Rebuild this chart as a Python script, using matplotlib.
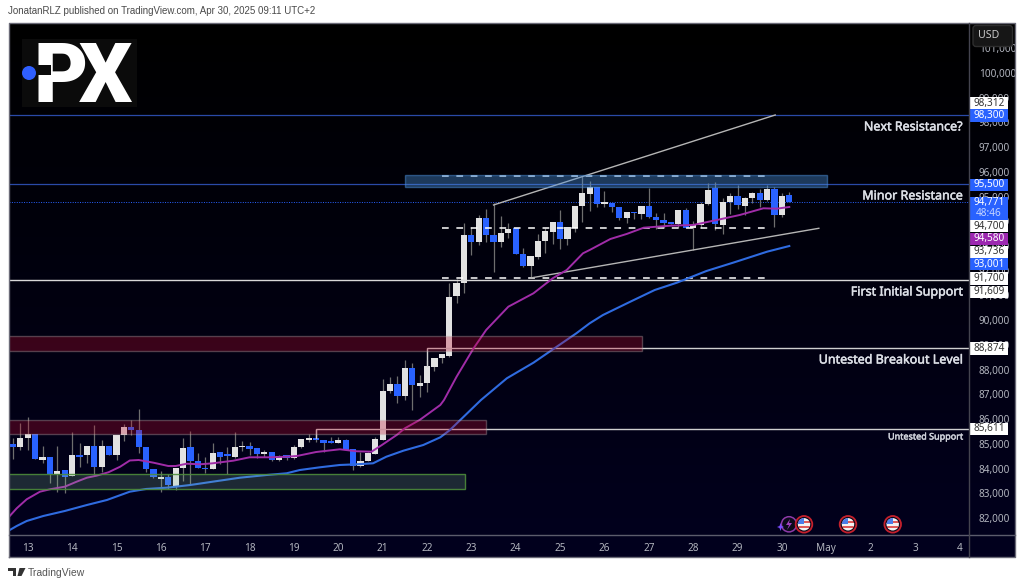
# BTCUSD 4H chart, TradingView style
import numpy as np
import matplotlib
matplotlib.use("Agg")
import matplotlib.pyplot as plt
import matplotlib.patheffects as pe
from matplotlib.patches import Rectangle, Circle, FancyBboxPatch, Polygon

opens = [84980, 84885, 85250, 85398, 84360, 84480, 83780, 83940, 83713, 84560,
         84535, 84900, 84064, 84900, 84550, 85344, 85695, 85560, 84873, 83970,
         83592, 83660, 83295, 84010, 84859, 84306, 84037, 83970, 84670, 84536,
         84480, 84859, 84926, 84818, 84590, 84657, 84347, 84536, 84441, 84859,
         85169, 85196, 85169, 85075, 85021, 85156, 84778, 84104, 84320, 84590,
         85156, 87137, 87407, 86949, 88054, 87340, 87461, 88123, 88460, 88554,
         90981, 91520, 93461, 93151, 94122, 93461, 93178, 93528, 93717, 92665,
         92207, 92571, 93218, 93555, 93986, 93272, 93744, 94620, 95120, 95389,
         94688, 94756, 94594, 94135, 94392, 94284, 94621, 94176, 94068, 93933,
         93893, 94445, 93745, 93852, 94702, 95335, 93852, 94769, 95025, 94634,
         94931, 95133, 94850, 95322, 94243, 95065]
highs = [85250, 85857, 86072, 85398, 84900, 84480, 84900, 83940, 85466, 85034,
         84900, 85749, 85155, 84900, 85344, 85789, 85964, 86409, 84873, 83970,
         83902, 83767, 84010, 85223, 85506, 84643, 84480, 85020, 84670, 84859,
         85466, 85102, 85088, 84818, 84751, 84657, 84549, 84536, 84940, 85196,
         85398, 85587, 85169, 85264, 85264, 85210, 84778, 84684, 84684, 85291,
         87619, 87690, 87757, 88391, 88283, 87784, 88391, 88460, 88635, 91493,
         91655, 93919, 93785, 94256, 94485, 94728, 94216, 93919, 93717, 92908,
         92598, 93474, 93744, 93986, 94458, 93784, 94620, 95847, 95645, 95389,
         95241, 94756, 94594, 94392, 94392, 94634, 95362, 94324, 94324, 93960,
         94445, 94526, 94014, 94769, 95537, 95605, 94931, 95133, 95470, 94998,
         95200, 95295, 95470, 95376, 95133, 95173]
lows = [84387, 84750, 84750, 84387, 84212, 83430, 83066, 83000, 83713, 84077,
        84212, 83740, 83875, 84550, 84347, 85128, 85344, 84617, 83875, 83605,
        83066, 83160, 83133, 83511, 83335, 84023, 83807, 83970, 84172, 83780,
        84414, 84724, 84549, 84414, 84482, 84320, 84320, 84347, 84374, 84819,
        85061, 85061, 84684, 85021, 85021, 84751, 83942, 84050, 84306, 84590,
        85156, 87070, 86639, 86773, 86369, 86908, 87083, 87961, 88258, 88500,
        90684, 91116, 92639, 93043, 93178, 91965, 92948, 93312, 92665, 92140,
        91762, 92477, 92706, 93083, 92868, 93043, 93582, 93987, 94432, 94594,
        94594, 94392, 94055, 93920, 94082, 94082, 94122, 93691, 93718, 93880,
        93718, 93718, 92841, 93718, 94661, 93650, 93488, 94297, 94486, 94257,
        94729, 94594, 94823, 93785, 94162, 94771]
closes = [84885, 85250, 85398, 84387, 84480, 83780, 83900, 83660, 84535, 84480,
          84900, 84064, 84900, 84550, 85344, 85695, 85560, 84873, 83970, 83646,
          83660, 83322, 84010, 84818, 84306, 84023, 83970, 84643, 84480, 84508,
          84859, 84926, 84805, 84590, 84643, 84347, 84508, 84441, 84859, 85196,
          85196, 85156, 85048, 85048, 85156, 84751, 84118, 84320, 84617, 85183,
          87151, 87407, 86949, 88081, 87380, 87474, 88135, 88460, 88635, 90954,
          91520, 93461, 93151, 94122, 93448, 93178, 93542, 93703, 92665, 92207,
          92598, 93218, 93595, 93986, 93285, 93784, 94620, 95133, 95389, 94702,
          94769, 94580, 94135, 94392, 94324, 94634, 94162, 94055, 93933, 93893,
          94445, 93745, 93852, 94715, 95268, 93879, 94796, 95025, 94648, 94958,
          95133, 94863, 95322, 94257, 95039, 94771]

# moving averages, read at some bars only
ma_fast_x = [-0.6, 0.5, 1.85, 3.65, 5, 7, 8.6, 10, 11.3, 12.9, 14.5, 15.8, 17, 19, 21, 22,
             23.5, 25.3, 27, 29.8, 32, 34.8, 37, 38.4, 41, 44.2, 46.5, 48.5, 49.9, 51.9,
             53, 55, 57.8, 58.3, 60, 62.3, 64, 67, 70.4, 73, 74.9, 77.1, 78, 80.8, 83,
             85.3, 88.9, 92, 95.2, 98.3, 101.5, 103.3, 105]
ma_fast_y = [82028, 82392, 82756, 83064, 83161, 83266, 83468, 83630, 83711, 83848, 84075,
             84326, 84346, 84237, 84103, 84103, 84196, 84172, 84212, 84318, 84455, 84455,
             84479, 84508, 84669, 84779, 84698, 84682, 84953, 85357, 85628, 85964, 86571,
             86773, 87715, 88864, 89604, 90547, 91089, 91696, 92031, 92707, 92840, 93285,
             93488, 93742, 93823, 93852, 94054, 94256, 94527, 94511, 94580]
ma_slow_x = [-0.6, 0.5, 1.85, 4.1, 7, 10, 12.7, 15.8, 18, 20.8, 24, 27, 30.7, 34.3, 37, 38.8,
             41.5, 44.2, 46.5, 48.7, 50.5, 52.8, 55.5, 57.8, 59.1, 63.3, 66.8, 70.4, 73.1,
             76.2, 78, 79.8, 83.5, 86.8, 89.8, 93.8, 97.4, 102, 105]
ma_slow_y = [81486, 81676, 81878, 82081, 82283, 82526, 82728, 83064, 83173, 83225, 83335,
             83468, 83630, 83739, 83808, 83941, 84050, 84144, 84172, 84212, 84479, 84722,
             84953, 85264, 85559, 86773, 87651, 88282, 88836, 89471, 89875, 90211, 90749,
             91222, 91518, 91991, 92327, 92772, 93001]

day_bars = [2, 8, 14, 20, 26, 32, 38, 44, 50, 56, 62, 68, 74, 80, 86, 92, 98, 104, 110, 116, 122, 128]
day_labels = ["13", "14", "15", "16", "17", "18", "19", "20", "21", "22", "23", "24", "25", "26",
              "27", "28", "29", "30", "May", "2", "3", "4"]
price_ticks = list(range(82000, 102000, 1000))

level_next = 98300
level_minor = 95500
last_price = 94771
level_support = 91609
level_breakout = 88874
level_untested = 85611
dash_levels = [95840, 93736, 91700]

BLUE = "#2962ff"
WHITE = "#e2e2e2"
GREY = "#b2b5be"
FONT = ["Noto Sans", "DejaVu Sans"]
plt.rcParams["font.family"] = FONT

fig = plt.figure(figsize=(10.24, 5.87), dpi=100, facecolor="white")

# gradient behind the panel
bg = fig.add_axes([0, 0, 1, 1], zorder=0)
bg.set_xlim(0, 1024)
bg.set_ylim(587, 0)
bg.axis("off")
grad = np.linspace(0, 1, 64).reshape(-1, 1, 1) * np.array([2, 0, 30]).reshape(1, 1, 3) / 255
bg.imshow(grad, extent=(9, 1015, 557, 23), aspect="auto", interpolation="bilinear")
bg.set_xlim(0, 1024)
bg.set_ylim(587, 0)

ax = fig.add_axes([9 / 1024, 1 - 535 / 587, 960 / 1024, 512 / 587], zorder=1)
ax.patch.set_alpha(0)
ax.set_xlim(-0.541, 129.31)
ax.set_ylim(81312, 102022)
for s in ax.spines.values():
    s.set_visible(False)

# zones, above the candles like in the original
ax.add_patch(Rectangle((-1, 88770), 86.1, 590, fc=(0.75, 0.05, 0.18, 0.30), ec=(0.75, 0.7, 0.7, 0.35), lw=1, zorder=6))
ax.add_patch(Rectangle((-1, 85400), 65, 550, fc=(0.75, 0.05, 0.18, 0.30), ec=(0.75, 0.7, 0.7, 0.35), lw=1, zorder=6))
ax.add_patch(Rectangle((-1, 83190), 62.1, 604, fc=(0.56, 0.82, 0.63, 0.20), ec=(0.3, 0.55, 0.23, 0.9), lw=1, zorder=6))
ax.add_patch(Rectangle((53, 95375), 57.1, 495, fc=(0.29, 0.56, 0.85, 0.40), ec=(0.29, 0.56, 0.85, 0.5), lw=1, zorder=6))

# levels
ax.axhline(level_next, color="#2a4aa8", lw=0.9, zorder=2)
ax.axhline(level_minor, color="#2a4aa8", lw=0.9, zorder=2)
ax.axhline(last_price, color=BLUE, lw=0.7, ls=(0, (1, 1.5)), zorder=2)
ax.axhline(level_support, color="#d8d8d8", lw=1, zorder=5)
ax.plot([56, 56, 130], [88148, level_breakout, level_breakout], color="#cfcfcf", lw=1, zorder=5, solid_joinstyle="miter")
ax.plot([41, 41, 130], [85235, level_untested, level_untested], color="#cfcfcf", lw=1, zorder=5, solid_joinstyle="miter")
for lv in dash_levels:
    ax.plot([58, 101.7], [lv, lv], color="white", lw=1.1, ls=(0, (4.4, 5)), zorder=5)

# wedge
ax.plot([65, 103.1], [94661, 98301], color="#b5b5b5", lw=1, zorder=5)
ax.plot([70, 109], [91708, 93718], color="#b5b5b5", lw=1, zorder=5)

# candles
bars = np.arange(len(opens))
o = np.array(opens)
c = np.array(closes)
cols = [WHITE if cc >= oo else BLUE for oo, cc in zip(opens, closes)]
ax.vlines(bars, lows, highs, color="#6e6e6e", lw=0.9, zorder=3)
ax.bar(bars, np.maximum(np.abs(c - o), 70), bottom=np.minimum(o, c), width=0.84, color=cols, lw=0, zorder=4)

# averages
ax.plot(ma_fast_x, ma_fast_y, color="#a02ca8", lw=1.4, zorder=5)
ax.plot(ma_slow_x, ma_slow_y, color="#2f6be0", lw=1.5, zorder=5)

ax.yaxis.tick_right()
ax.set_yticks(price_ticks)
ax.set_yticklabels([f"{p:,}" for p in price_ticks])
ax.set_xticks(day_bars)
ax.set_xticklabels(day_labels)
ax.tick_params(axis="both", length=0, colors=GREY, labelsize=7.2)
ax.tick_params(axis="y", pad=7)
ax.tick_params(axis="x", pad=5.5)
for t in ax.get_xticklabels():
    if t.get_text() == "May":
        t.set_fontweight("bold")

# everything else in pixels
ov = fig.add_axes([0, 0, 1, 1], zorder=5)
ov.patch.set_alpha(0)
ov.set_xlim(0, 1024)
ov.set_ylim(587, 0)
ov.axis("off")

ov.plot([9, 9, 1015, 1015, 9], [557, 23, 23, 557, 557], color="#6b6b78", lw=1)
ov.plot([9, 1015], [535, 535], color="#5c5c6c", lw=1)
ov.plot([969, 969], [23, 557], color="#44444f", lw=1)

ov.text(8, 11.5, "JonatanRLZ published on TradingView.com, Apr 30, 2025 09:11 UTC+2",
        color="#4a4a4a", fontsize=7.0, fontfamily="Liberation Sans", va="center")

# level notes, thin stroke to thicken them
notes = ["Next Resistance?", "Minor Resistance", "First Initial Support", "Untested Breakout Level"]
note_y = [127, 196, 292, 360]
for txt, y in zip(notes, note_y):
    ov.text(963, y, txt, color="#dcdfe6", fontsize=9.0, ha="right", va="center",
            path_effects=[pe.withStroke(linewidth=0.35, foreground="#dcdfe6")])
ov.text(964, 437, "Untested Support", color="#d1d4dc", fontsize=6.5, ha="right", va="center",
        path_effects=[pe.withStroke(linewidth=0.3, foreground="#d1d4dc")])

# price boxes
box_text = ["98,312", "98,300", "95,500", "94,700", "94,580", "93,736", "93,001", "91,700", "91,609", "88,874", "85,611"]
box_y = [103.3, 115.3, 185, 226, 239, 251.7, 264, 278.3, 291.7, 348.5, 429]
box_fc = ["white", BLUE, BLUE, "white", "#9c27b0", "white", BLUE, "white", "white", "white", "white"]
box_tc = ["#333333", "white", "white", "#333333", "white", "#333333", "white", "#333333", "#333333", "#333333", "#333333"]
for txt, y, fc, tc in zip(box_text, box_y, box_fc, box_tc):
    ov.add_patch(Rectangle((970, y - 6.2), 38, 12.4, fc=fc, ec="none"))
    ov.text(989, y, txt, color=tc, fontsize=7.2, ha="center", va="center")
ov.add_patch(Rectangle((970, 197), 38, 23, fc=BLUE, ec="none"))
ov.text(989, 202.5, "94,771", color="white", fontsize=7.2, ha="center", va="center")
ov.text(989, 213.5, "48:46", color="#c5d5ff", fontsize=7.2, ha="center", va="center")

# USD button
ov.add_patch(FancyBboxPatch((973, 25.5), 39.5, 21, boxstyle="round,pad=0,rounding_size=3", fc="#161616", ec="#2e2e2e", lw=1))
ov.text(988.5, 36, "USD", color="#c8c8c8", fontsize=7.6, ha="center", va="center")

# logo
ov.add_patch(Rectangle((22, 39), 115, 68, fc="#0b0b0b", ec="none"))
ov.text(34, 102.5, "P", color="white", fontsize=60, fontfamily="Roboto", fontweight="black", va="baseline")
ov.text(79, 102.5, "X", color="white", fontsize=60, fontfamily="Roboto", fontweight="black", va="baseline")
ov.add_patch(Rectangle((30, 65), 21, 10, fc="#0b0b0b", ec="none", zorder=4))
ov.add_patch(Circle((29, 73), 7, fc="#2f5fff", ec="none", zorder=5))

# event icons at the bottom
def flag_icon(x, y):
    ov.add_patch(Circle((x, y), 8.3, fc="#0a0a1a", ec="#c4202c", lw=1.3))
    clip = Circle((x, y), 6.2, transform=ov.transData)
    for top, col in zip([-7, -3.5, -1, 1.5, 4], ["#f2f2f2", "#e05a5a", "#f2f2f2", "#e05a5a", "#f2f2f2"]):
        r = Rectangle((x - 7, y + top), 14, 3.5, fc=col, ec="none")
        ov.add_patch(r)
        r.set_clip_path(clip)
    r = Rectangle((x - 7, y - 7), 7, 7, fc="#4a7de8", ec="none")
    ov.add_patch(r)
    r.set_clip_path(clip)

ov.add_patch(Circle((789, 524.3), 7.6, fc="#0a0a1a", ec="#8e3aa8", lw=1.1))
ov.add_patch(Polygon([[790, 519], [786, 525], [789, 525], [787, 530], [792, 523], [789, 523]], fc="#a040c0", ec="none"))
ov.add_patch(Polygon([[780.5, 523], [781.5, 526], [784, 527], [781.5, 528], [780.5, 531], [779.5, 528], [777, 527], [779.5, 526]],
                     fc="#7a4dff", ec="none"))
for xi in [804, 848, 892.7]:
    flag_icon(xi, 524.3)

# TradingView footer
ov.add_patch(Polygon([[8, 568], [16, 568], [16, 576], [12.5, 576], [12.5, 571], [8, 571]], fc="#333333", ec="none"))
ov.add_patch(Polygon([[19.5, 568], [25.5, 568], [21.5, 576], [17.5, 576]], fc="#333333", ec="none"))
ov.text(28, 572.5, "TradingView", color="#555555", fontsize=7.5, fontfamily="Liberation Sans", va="center")

fig.savefig("out.png", dpi=100, facecolor="white")
